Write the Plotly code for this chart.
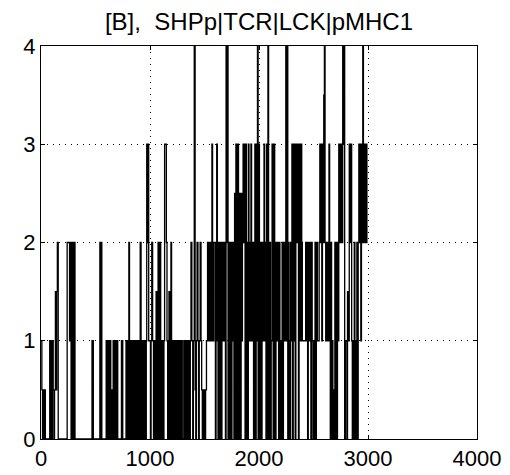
import plotly.graph_objects as go

# ---- data: stochastic trajectory (event time, copy number) ----
times_early = [0, 8, 14, 20, 26, 32, 40,
               80, 86, 92, 98, 104, 112, 118, 124, 132, 138, 144, 150, 158,
               240, 262, 270, 276, 282, 288, 294, 300, 306, 312,
               468, 480, 540, 546, 552, 558,
               598, 604, 610, 616, 622, 628, 634, 640, 648, 656, 662, 668, 674, 680, 686, 692, 698, 704,
               738, 750, 780, 790]
levels_early = [1, 0.5, 0, 0.5, 0, 0.5, 0,
                1, 0, 1, 0, 1, 0.5, 0, 0.5, 1.5, 0.5, 1.5, 2, 0,
                2, 1, 2, 0, 2, 0, 2, 0, 2, 0,
                1, 0, 2, 0, 2, 0,
                1, 0, 1, 0, 1, 0, 1, 0, 0.5, 0, 1, 0, 1, 0, 1, 0, 1, 0,
                1, 0, 1, 0]

times_mid = [800, 806, 812, 818, 824, 830, 836, 842, 848,
             860, 866, 872, 878, 884, 890, 896, 902, 910, 918,
             930, 936, 942, 948, 954, 960, 966, 970, 976, 982, 988, 1004,
             1010, 1016, 1024, 1032, 1038, 1044, 1050, 1056, 1062, 1068, 1074, 1080, 1086, 1092, 1098,
             1104, 1110, 1116, 1122, 1128, 1134, 1150, 1156,
             1162, 1168, 1174, 1180, 1186, 1192, 1198, 1204, 1210,
             1218, 1224, 1236, 1242, 1248, 1254, 1260, 1266, 1272, 1278, 1284, 1296, 1310, 1316,
             1322, 1328, 1334, 1340, 1346, 1352, 1358, 1364, 1370, 1376, 1384, 1392, 1398,
             1406, 1414, 1420, 1426, 1432, 1440, 1446, 1452, 1460, 1468, 1474, 1480, 1486, 1492,
             1498, 1504, 1510, 1518, 1528, 1536, 1544, 1550, 1556, 1562, 1568, 1574, 1580, 1586, 1592]
levels_mid = [1, 2, 0, 1, 0, 1, 0, 1, 0,
              1, 0, 1, 0, 1, 0, 1, 0, 2, 0,
              1, 0, 1, 0, 1, 0, 1, 3, 2, 3, 1, 0,
              1, 2, 1, 0, 1, 0, 1, 1.5, 0, 1, 2, 0, 1, 2, 0,
              1, 0, 1, 0, 1, 3, 2, 1,
              0, 1, 1.5, 0, 1, 2, 0, 1, 0,
              1, 0, 1, 0, 1, 0, 1, 0, 1, 0, 1, 0, 1, 0,
              1, 0, 1, 0, 1, 0, 1, 0, 1, 2, 1, 0, 1,
              4, 0.5, 0, 1, 2, 1, 0, 1, 2, 1, 0.5, 0, 0.5, 0,
              0.5, 0, 0.5, 1, 2, 1, 2, 1, 2, 1, 3, 2, 1, 2, 2]

times_late = [1600, 1606, 1612, 1618, 1624, 1630, 1636, 1642, 1648, 1654, 1660,
              1666, 1672, 1680, 1686,
              1692, 1698, 1704, 1710, 1716, 1722, 1728, 1734, 1740, 1746, 1752,
              1758, 1764,
              1770, 1776, 1782, 1788, 1794, 1800, 1806, 1812,
              1818, 1824, 1830, 1836, 1842, 1848,
              1854, 1860, 1866, 1872, 1878, 1884, 1890, 1896, 1902, 1908,
              1914, 1920, 1926, 1932, 1938, 1944,
              1950, 1956, 1962, 1968, 1974, 1980, 1986, 1992, 1998, 2004, 2010, 2016, 2022, 2028,
              2034, 2040, 2046, 2052, 2058,
              2064, 2070, 2076, 2082, 2088, 2094, 2100, 2106, 2112, 2120, 2130, 2138, 2144, 2150,
              2156, 2162, 2168, 2174,
              2180, 2186, 2192, 2198, 2204, 2212, 2218, 2224,
              2230, 2236, 2242,
              2246, 2252, 2258, 2264, 2270,
              2276, 2282, 2290, 2296, 2302, 2308, 2314, 2320, 2326, 2332, 2338, 2344, 2350, 2356,
              2362, 2368, 2374, 2380,
              2386, 2392, 2398,
              2428, 2434, 2440, 2446, 2452, 2458, 2464, 2470, 2476, 2482, 2488,
              2496, 2502, 2508, 2514, 2520, 2526,
              2530, 2536,
              2552, 2558, 2564, 2570, 2576, 2582, 2588, 2594, 2600, 2606, 2612, 2618, 2624, 2630,
              2636, 2642, 2648, 2654,
              2660, 2666, 2672, 2678, 2684, 2690, 2696, 2702, 2708, 2714, 2720, 2726,
              2732, 2738, 2744, 2750, 2756, 2762, 2768, 2774, 2780, 2786, 2792,
              2806, 2812, 2820, 2828, 2836, 2844, 2850,
              2856, 2862, 2868, 2874, 2880, 2886, 2892, 2898, 2904, 2910,
              2916, 2922, 2928, 2934, 2940, 2946, 2952, 2958, 2964, 2970, 2976, 2982, 2990, 2996]
levels_late = [0, 1, 3, 2, 0, 2, 1, 0, 2, 0, 1,
               2, 1, 2, 1,
               0, 4, 2, 4, 0, 2, 0, 1, 2, 0, 2,
               1, 2,
               0, 2.5, 0, 3, 1, 0, 3, 2,
               0, 2.5, 0, 2.5, 1, 2,
               3, 2, 3, 0, 3, 0, 2, 0, 3, 1,
               2, 1, 3, 1, 2, 1,
               0, 2, 3, 0, 3, 1, 4, 0, 3, 1, 0, 2, 0, 1,
               2, 1, 3, 1, 2,
               0, 3, 0, 4, 1, 0, 2, 0, 1, 3, 0, 3, 1, 0,
               2, 1, 2, 1,
               0, 2, 0, 1, 0, 2, 0, 1,
               2, 1, 2,
               4, 1, 4, 0, 2,
               1, 0, 2, 1, 3, 0, 3, 1, 3, 0, 2, 3, 2, 3,
               0, 2, 3, 1,
               3, 2, 1,
               2, 1, 2, 0, 2, 1, 2, 1, 0, 2, 1,
               0, 1, 0, 2, 0, 1,
               2, 1,
               2, 3, 2, 3, 1, 3, 2, 3.5, 4, 2, 1, 2, 1, 2,
               1, 3, 2, 0,
               2, 0, 1, 0, 0.5, 0, 2, 0, 2, 0, 2, 1,
               3, 2, 3, 2, 3, 2, 4, 3, 4, 0, 1,
               0, 1.5, 1, 3, 2, 3, 1,
               0, 1, 0, 2, 0, 1, 0, 2, 0, 2,
               3, 2, 3, 1, 3, 2, 4, 2, 3, 2, 3, 2, 3, 3]

x_ticks = [0, 1000, 2000, 3000, 4000]
y_ticks = [0, 1, 2, 3, 4]
title_text = "[B],  SHPp|TCR|LCK|pMHC1"

t = times_early + times_mid + times_late
v = levels_early + levels_mid + levels_late

fig = go.Figure()
fig.add_trace(go.Scatter(x=t, y=v, mode="lines",
                         line=dict(shape="hv", color="black", width=1.3),
                         showlegend=False, hoverinfo="skip"))

axis_common = dict(showgrid=True, gridcolor="black", gridwidth=1, griddash="1px,5px",
                   showline=True, linecolor="black", linewidth=1, mirror="ticks",
                   ticks="inside", ticklen=4, tickcolor="black", zeroline=False,
                   automargin=False, tickfont=dict(size=22, color="black"))

fig.update_layout(
    width=510, height=475,
    margin=dict(l=41, r=33, t=46, b=36),
    paper_bgcolor="white", plot_bgcolor="white",
    font=dict(family="Liberation Sans, Arial, sans-serif", color="black"),
    title=dict(text=title_text, x=0.5, xref="paper", y=1 - 22 / 475, yref="container",
               yanchor="middle", xanchor="center", font=dict(size=24, color="black"),
               automargin=False),
    xaxis=dict(range=[0, 4000], tickvals=x_ticks, ticktext=[str(x) for x in x_ticks], **axis_common),
    yaxis=dict(range=[0, 4], tickvals=y_ticks, ticktext=[str(y) for y in y_ticks], **axis_common),
)

fig.write_html("out.html")
